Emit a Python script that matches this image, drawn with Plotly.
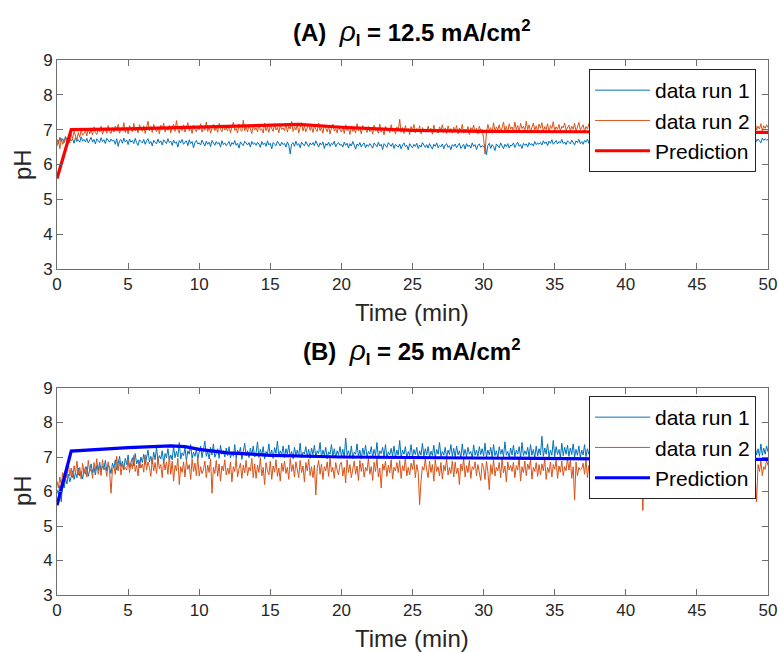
import plotly.graph_objects as go

# ---------------- data ----------------
T_START = 0.0
T_STEP = 0.1
N_PTS = 501
time_min = [round(T_START + i * T_STEP, 2) for i in range(N_PTS)]

a_run1 = [
    6.72,6.60,6.78,6.66,6.74,6.63,6.80,6.69,6.62,6.76,6.68,6.73,6.61,6.77,6.66,6.71,6.64,6.79,6.67,6.72,
    6.65,6.75,6.62,6.70,6.78,6.64,6.72,6.59,6.74,6.68,6.63,6.77,6.66,6.71,6.60,6.75,6.69,6.64,6.73,6.67,
    6.70,6.58,6.74,6.52,6.68,6.72,6.61,6.76,6.65,6.70,6.57,6.73,6.64,6.69,6.60,6.75,6.63,6.55,6.71,6.66,
    6.62,6.72,6.58,6.68,6.74,6.60,6.66,6.53,6.70,6.64,6.59,6.73,6.62,6.68,6.56,6.71,6.65,6.60,6.74,6.63,
    6.67,6.55,6.70,6.61,6.65,6.50,6.69,6.62,6.72,6.58,6.64,6.68,6.54,6.71,6.60,6.66,6.48,6.63,6.69,6.59,
    6.62,6.56,6.70,6.60,6.53,6.67,6.58,6.64,6.51,6.69,6.61,6.55,6.66,6.59,6.63,6.50,6.68,6.57,6.62,6.54,
    6.60,6.66,6.52,6.63,6.58,6.69,6.55,6.61,6.47,6.65,6.59,6.54,6.67,6.60,6.56,6.63,6.50,6.66,6.58,6.62,
    6.55,6.64,6.59,6.49,6.66,6.57,6.62,6.52,6.68,6.56,6.61,6.45,6.63,6.58,6.54,6.67,6.60,6.53,6.64,6.57,
    6.61,6.50,6.65,6.56,6.30,6.59,6.63,6.52,6.67,6.55,6.60,6.48,6.64,6.57,6.53,6.66,6.59,6.51,6.62,6.56,
    6.63,6.54,6.68,6.58,6.50,6.62,6.56,6.65,6.46,6.60,6.55,6.64,6.52,6.61,6.57,6.67,6.51,6.59,6.63,6.55,
    6.58,6.50,6.64,6.55,6.61,6.47,6.60,6.53,6.66,6.56,6.44,6.59,6.54,6.63,6.50,6.58,6.62,6.48,6.57,6.52,
    6.60,6.54,6.47,6.62,6.56,6.51,6.64,6.53,6.58,6.43,6.60,6.55,6.49,6.63,6.57,6.52,6.61,6.46,6.58,6.54,
    6.50,6.59,6.45,6.56,6.62,6.51,6.55,6.42,6.60,6.53,6.48,6.58,6.52,6.61,6.46,6.56,6.50,6.63,6.54,6.49,
    6.57,6.47,6.60,6.53,6.44,6.58,6.52,6.62,6.48,6.55,6.51,6.59,6.45,6.56,6.60,6.49,6.54,6.42,6.57,6.52,
    6.59,6.48,6.55,6.61,6.46,6.53,6.58,6.44,6.60,6.51,6.56,6.47,6.62,6.52,6.57,6.43,6.55,6.59,6.49,6.54,
    6.50,6.58,6.28,6.55,6.61,6.46,6.57,6.52,6.40,6.59,6.53,6.48,6.62,6.55,6.45,6.58,6.51,6.60,6.47,6.56,
    6.54,6.62,6.49,6.58,6.64,6.52,6.57,6.46,6.61,6.55,6.59,6.50,6.63,6.56,6.60,6.53,6.66,6.57,6.62,6.58,
    6.63,6.56,6.68,6.60,6.65,6.54,6.67,6.61,6.71,6.58,6.64,6.69,6.59,6.66,6.62,6.72,6.60,6.65,6.57,6.68,
    6.64,6.59,6.70,6.62,6.56,6.68,6.63,6.72,6.60,6.66,6.58,6.69,6.64,6.73,6.61,6.67,6.55,6.70,6.65,6.62,
    6.68,6.61,6.66,6.57,6.71,6.64,6.59,6.69,6.62,6.74,6.63,6.67,6.58,6.70,6.65,6.61,6.72,6.60,6.68,6.64,
    6.62,6.70,6.58,6.66,6.73,6.61,6.67,6.55,6.69,6.64,6.71,6.60,6.68,6.63,6.57,6.70,6.65,6.74,6.62,6.67,
    6.70,6.59,6.65,6.73,6.60,6.68,6.63,6.70,6.56,6.66,6.72,6.61,6.69,6.64,6.58,6.71,6.66,6.62,6.75,6.63,
    6.61,6.69,6.56,6.67,6.72,6.60,6.65,6.71,6.58,6.68,6.63,6.74,6.62,6.66,6.59,6.70,6.64,6.72,6.61,6.67,
    6.63,6.70,6.59,6.66,6.73,6.61,6.68,6.57,6.71,6.65,6.62,6.74,6.64,6.69,6.60,6.72,6.66,6.63,6.70,6.65,
    6.68,6.62,6.74,6.66,6.71,6.60,6.75,6.67,6.72,6.64,6.70,6.78,6.66,6.73,6.68,6.62,6.76,6.69,6.74,6.70,
    6.72,
]

a_run2 = [
    6.52,6.70,6.45,6.75,6.58,6.66,6.80,6.55,6.72,6.62,6.88,6.74,6.95,6.80,6.70,6.92,6.78,6.98,6.84,6.90,
    6.96,6.82,7.04,6.88,6.99,6.85,7.08,6.92,6.86,7.02,6.94,7.10,6.87,6.97,7.05,6.90,7.12,6.95,6.89,7.06,
    6.93,7.10,6.96,7.15,6.90,7.04,6.98,7.20,6.92,7.07,6.88,7.12,7.00,6.94,7.18,6.97,7.06,6.91,7.14,7.02,
    6.95,7.11,6.89,7.06,7.24,6.97,7.09,6.92,7.15,7.01,6.94,7.08,6.88,7.13,7.00,7.19,6.93,7.05,6.98,7.12,
    6.91,7.07,7.16,6.95,7.26,7.00,6.90,7.10,6.97,7.14,6.93,7.05,7.20,6.96,7.09,6.89,7.13,7.02,6.94,7.08,
    7.00,7.17,6.93,7.06,6.98,7.22,6.95,7.10,6.90,7.04,7.15,6.97,7.08,6.92,7.18,7.01,6.94,7.12,6.99,7.05,
    6.96,7.13,6.91,7.07,7.21,6.98,7.04,6.90,7.16,7.00,6.95,7.27,6.97,7.09,6.93,7.14,7.02,6.89,7.11,6.99,
    7.06,6.94,7.15,6.98,7.03,6.90,7.19,6.97,7.08,6.92,7.12,7.01,6.95,7.17,6.99,7.07,6.91,7.14,7.00,7.05,
    6.97,7.18,6.93,7.10,7.02,7.24,6.95,7.08,6.99,7.15,6.91,7.06,7.20,6.96,7.11,6.94,7.04,7.16,6.98,7.09,
    6.92,7.12,7.00,6.95,7.19,6.97,7.07,6.90,7.14,7.01,6.94,7.10,6.88,7.05,7.16,6.96,7.03,6.91,7.11,6.99,
    6.93,7.08,6.89,7.14,6.97,7.04,6.86,7.10,6.95,7.02,6.90,7.17,6.96,7.06,6.88,7.12,6.99,7.03,6.92,7.09,
    6.94,7.07,6.87,7.13,6.96,7.01,6.90,7.16,6.93,7.05,6.85,7.10,6.98,7.04,6.91,7.14,6.95,7.02,6.88,7.08,
    6.97,7.30,6.92,7.06,6.89,7.12,6.95,7.03,6.86,7.09,6.98,7.15,6.91,7.04,6.94,7.11,6.88,7.06,6.99,7.02,
    6.93,7.10,6.96,7.04,6.87,7.13,6.94,7.00,6.90,7.08,6.97,7.14,6.92,7.05,6.89,7.11,6.98,7.03,6.91,7.07,
    6.95,7.12,6.88,7.05,6.97,7.15,6.90,7.02,6.94,7.09,6.86,7.06,6.99,7.13,6.92,7.04,6.88,7.10,6.96,7.01,
    6.75,6.30,6.92,7.15,6.97,7.06,6.90,7.20,6.95,7.08,6.99,7.14,6.93,7.05,7.22,6.96,7.10,6.92,7.17,7.01,
    7.08,6.95,7.22,6.99,7.12,6.93,7.18,7.03,7.10,6.96,7.24,7.00,7.14,6.94,7.07,7.19,6.98,7.11,6.95,7.16,
    7.04,7.20,6.95,7.09,7.00,7.17,6.93,7.12,7.03,7.23,6.97,7.08,7.01,7.15,6.94,7.10,7.05,7.19,6.98,7.07,
    7.13,6.96,7.10,7.01,7.18,6.94,7.07,7.21,6.99,7.05,7.14,6.95,7.09,7.02,7.17,6.97,7.11,7.04,6.93,7.08,
    7.00,7.15,6.96,7.06,7.12,6.94,7.09,7.02,7.18,6.97,7.05,7.13,6.95,7.08,7.00,7.16,6.93,7.10,7.03,7.07,
    7.11,6.97,7.04,7.16,6.94,7.08,7.01,7.14,6.96,7.06,7.12,6.98,7.03,7.17,6.95,7.09,7.00,7.13,6.97,7.05,
    6.99,7.14,6.95,7.07,7.02,7.18,6.93,7.09,6.98,7.12,7.04,6.96,7.15,7.00,7.08,6.94,7.11,7.03,7.16,6.97,
    7.03,6.96,7.15,7.00,7.08,6.94,7.11,7.02,7.19,6.97,7.06,7.13,6.95,7.10,7.01,7.16,6.98,7.07,7.12,6.96,
    7.06,6.99,7.13,6.95,7.09,7.02,7.17,6.97,7.05,7.11,6.96,7.14,7.00,7.08,6.94,7.12,7.03,7.18,6.98,7.07,
    7.12,6.96,7.19,7.03,6.98,7.15,7.00,7.09,6.97,7.13,7.05,7.21,6.99,7.10,7.02,7.17,6.96,7.11,7.04,7.14,
    7.06,
]

a_pred_t = [0, 1, 5, 10, 17, 20, 25, 30, 35, 40, 45, 50]
a_pred = [5.6, 7.0, 7.02, 7.07, 7.15, 7.07, 6.98, 6.95, 6.94, 6.93, 6.93, 6.92]

b_run1 = [
    6.05,5.92,6.18,5.70,6.30,6.10,6.38,6.22,6.50,6.28,6.42,6.60,6.35,6.55,6.40,6.68,6.45,6.58,6.36,6.62,
    6.50,6.72,6.44,6.65,6.80,6.55,6.70,6.48,6.76,6.62,6.85,6.58,6.74,6.66,6.90,6.60,6.78,6.70,6.52,6.82,
    6.68,6.92,6.62,6.80,7.02,6.72,6.88,6.65,6.96,6.78,7.06,6.70,6.86,6.98,6.74,7.10,6.80,6.92,6.68,7.00,
    6.84,7.08,6.78,6.96,7.20,6.86,7.02,6.80,7.14,6.92,7.28,6.88,7.04,6.94,7.18,6.82,7.10,6.98,7.24,6.90,
    7.06,6.92,7.30,6.98,7.16,7.00,7.42,6.94,7.12,7.04,7.26,6.90,7.18,7.08,7.36,6.96,7.14,7.02,7.22,6.95,
    7.10,7.32,6.98,7.20,7.46,7.02,7.16,6.94,7.28,7.06,7.38,6.99,7.12,7.24,6.96,7.34,7.08,7.18,7.00,7.26,
    7.04,7.30,6.97,7.15,7.02,7.36,6.95,7.20,7.08,7.28,6.93,7.14,7.40,7.03,7.18,6.98,7.26,7.06,7.32,7.00,
    7.12,7.44,6.99,7.22,7.05,7.30,6.94,7.16,7.08,7.38,7.01,7.20,6.96,7.27,7.10,7.46,7.02,7.18,7.06,7.32,
    6.98,7.24,7.08,7.35,7.00,7.16,6.95,7.28,7.06,7.20,7.02,7.40,6.97,7.14,7.09,7.30,7.01,7.22,6.96,7.26,
    7.07,7.34,7.00,7.18,7.10,7.42,6.98,7.20,7.04,7.28,6.95,7.15,7.08,7.36,7.02,7.24,6.99,7.18,7.06,7.30,
    7.02,7.22,6.97,7.55,7.05,7.18,7.00,7.32,6.96,7.14,7.08,7.38,7.01,7.20,6.95,7.26,7.06,7.34,7.00,7.16,
    7.08,7.30,6.98,7.22,7.04,7.42,6.96,7.18,7.10,7.28,7.00,7.36,6.97,7.15,7.06,7.25,7.02,7.32,6.99,7.20,
    7.05,7.48,6.98,7.20,7.08,7.30,6.96,7.16,7.04,7.36,7.00,7.22,7.07,7.28,6.97,7.18,7.05,7.40,7.01,7.24,
    7.06,7.30,6.99,7.17,7.04,7.34,6.97,7.22,7.08,7.42,7.01,7.16,7.05,7.28,6.98,7.20,7.07,7.36,7.02,7.25,
    7.00,7.32,7.06,7.18,6.97,7.38,7.04,7.22,7.01,7.28,7.08,7.16,6.98,7.35,7.05,7.20,7.02,7.30,7.07,7.24,
    7.03,7.40,6.98,7.20,7.06,7.28,7.00,7.36,7.04,7.18,6.97,7.30,7.08,7.22,7.01,7.44,7.05,7.16,6.99,7.26,
    7.06,7.34,7.01,7.20,7.08,7.30,6.98,7.42,7.04,7.18,7.07,7.28,7.00,7.36,7.05,7.22,6.98,7.32,7.03,7.24,
    7.06,7.60,7.02,7.26,7.08,7.38,7.00,7.20,7.05,7.48,7.01,7.30,7.07,7.22,6.99,7.40,7.04,7.28,7.08,7.34,
    7.02,7.26,7.07,7.38,7.00,7.22,7.05,7.32,6.98,7.20,7.06,7.36,7.01,7.24,7.08,7.30,7.03,7.42,7.00,7.22,
    7.05,7.30,7.00,7.20,7.08,7.40,7.02,7.26,7.06,7.34,7.00,7.22,7.07,7.32,7.01,7.20,7.05,7.38,7.02,7.26,
    7.06,7.30,7.01,7.22,7.08,7.36,7.00,7.24,7.05,7.32,7.02,7.20,7.07,7.40,7.03,7.26,7.00,7.30,7.06,7.22,
    7.04,7.34,7.00,7.24,7.08,7.38,7.02,7.22,7.06,7.30,7.01,7.26,7.07,7.36,7.03,7.20,7.05,7.32,7.00,7.28,
    7.06,7.22,7.02,7.35,7.08,7.26,7.01,7.30,7.05,7.20,7.00,7.38,7.06,7.24,7.02,7.32,7.07,7.22,7.01,7.28,
    7.04,7.34,7.00,7.22,7.08,7.36,7.02,7.26,7.06,7.30,7.00,7.24,7.05,7.40,7.02,7.22,7.07,7.30,7.01,7.26,
    7.03,7.45,7.06,7.28,7.01,7.35,7.08,7.22,7.04,7.40,7.00,7.30,7.06,7.24,7.02,7.38,7.05,7.26,7.08,7.32,
    7.15,
]

b_run2 = [
    6.30,6.10,6.42,6.18,6.55,6.25,6.62,6.38,6.80,6.45,6.68,6.40,6.75,6.52,6.88,6.48,6.70,6.36,6.82,6.55,
    6.72,6.42,6.90,6.58,6.66,6.38,6.84,6.60,6.95,6.50,6.76,6.46,6.92,6.62,6.70,6.44,6.86,6.56,5.95,6.64,
    6.72,6.50,7.02,6.60,6.88,6.48,6.78,6.62,6.70,6.62,6.94,6.55,6.82,6.66,7.05,6.58,6.76,6.45,6.90,6.68,
    6.80,6.56,7.06,6.62,6.86,6.70,6.44,6.96,6.60,6.84,6.52,6.98,6.66,6.78,6.40,6.92,6.62,6.86,6.50,7.02,
    6.50,6.88,6.30,6.76,6.60,6.96,6.20,6.72,6.55,6.86,6.42,6.90,6.64,6.78,6.35,6.94,6.58,6.82,6.46,7.00,
    6.45,6.72,6.52,6.64,6.88,6.40,6.76,6.55,6.95,5.95,6.70,6.52,6.90,6.44,6.80,6.30,6.74,6.60,6.92,6.48,
    6.68,6.50,6.86,6.28,6.72,6.58,6.94,6.42,6.66,6.82,6.38,6.76,6.54,6.90,6.46,6.70,6.60,6.96,6.40,6.80,
    6.38,6.76,6.55,6.98,6.45,6.70,6.20,6.84,6.60,6.48,6.88,6.35,6.74,6.56,6.92,6.44,6.68,6.30,6.82,6.58,
    6.88,6.52,6.70,6.35,6.96,6.58,6.78,6.42,6.86,6.62,6.40,6.90,6.55,6.74,6.28,6.84,6.60,6.94,6.46,6.72,
    6.40,6.76,5.90,6.68,6.90,6.50,6.80,6.35,6.72,6.60,6.86,6.44,6.96,6.56,6.70,6.38,6.84,6.62,6.48,6.78,
    6.85,6.45,6.70,6.25,6.92,6.55,6.78,6.40,6.65,6.88,6.50,6.74,6.32,6.90,6.58,6.82,6.42,6.70,6.60,6.95,
    6.50,6.72,6.32,6.85,6.58,6.95,6.42,6.68,6.10,6.80,6.62,6.88,6.44,6.76,6.54,6.92,6.36,6.70,6.60,6.84,
    6.55,6.90,6.38,6.75,6.60,6.98,6.45,6.70,6.48,6.82,6.64,6.92,6.40,6.78,6.56,5.62,6.30,6.72,6.62,6.94,
    6.62,6.40,6.88,6.55,6.78,6.30,6.92,6.58,6.72,6.45,6.84,6.36,6.76,6.60,6.96,6.48,6.70,6.52,6.88,6.42,
    6.85,6.52,6.68,6.20,6.80,6.60,6.95,6.42,6.75,6.55,6.90,6.38,6.72,6.64,6.86,6.46,6.78,6.58,6.32,6.82,
    6.70,6.35,6.88,6.58,6.05,6.78,6.50,6.92,6.45,6.70,6.60,6.84,6.40,6.96,6.54,6.74,6.28,6.86,6.62,6.76,
    6.58,6.85,6.40,6.75,6.62,6.98,6.30,6.72,6.55,6.88,6.46,6.80,6.64,6.92,6.36,6.70,6.58,6.84,6.44,6.78,
    6.48,6.80,6.60,6.95,6.35,6.70,6.55,6.85,6.42,6.78,6.64,6.90,6.38,6.74,6.56,6.88,6.46,6.72,6.60,6.94,
    6.62,6.90,6.38,6.72,5.75,6.85,6.45,6.70,6.62,6.66,6.82,6.50,6.92,6.40,6.76,6.60,6.88,6.44,6.70,6.55,
    6.88,6.40,6.75,6.60,6.95,6.32,6.68,6.52,6.82,6.45,6.78,6.62,6.90,6.36,6.72,6.56,6.86,6.42,6.74,6.64,
    6.70,6.58,6.90,6.35,6.78,6.62,6.95,6.44,6.72,6.50,6.86,6.40,5.45,6.74,6.60,6.88,6.38,6.76,6.54,6.92,
    6.55,6.80,6.40,6.70,6.62,6.92,6.30,6.75,6.58,6.85,6.44,6.72,6.64,6.96,6.36,6.78,6.52,6.88,6.46,6.70,
    6.45,6.72,6.60,6.90,6.38,6.78,6.52,6.68,6.85,6.42,6.76,6.58,6.94,6.34,6.70,6.62,6.86,6.48,6.74,6.56,
    6.75,6.58,6.92,6.30,6.70,6.62,6.88,6.45,6.78,6.55,6.84,6.40,6.72,6.60,6.96,6.36,6.76,6.52,6.90,6.46,
    6.85,6.50,6.72,6.60,6.90,6.40,6.80,6.56,6.74,6.62,6.94,6.44,5.70,6.78,6.58,6.88,6.46,6.72,6.64,6.92,
    6.75,
]

b_pred_t = [0, 1, 5, 8, 9, 10, 12, 15, 20, 25, 30, 40, 50]
b_pred = [5.6, 7.17, 7.27, 7.32, 7.3, 7.22, 7.12, 7.05, 7.0, 6.98, 6.96, 6.94, 6.93]

RHO = "<span style='font-weight:normal;font-size:28px'><i>ρ</i></span>"
titles = ["<b>(A)&nbsp; " + RHO + "<sub>I</sub>&nbsp;= 12.5 mA/cm<sup>2</sup></b>",
          "<b>(B)&nbsp; " + RHO + "<sub>I</sub>&nbsp;= 25 mA/cm<sup>2</sup></b>"]
x_ticks = [0, 5, 10, 15, 20, 25, 30, 35, 40, 45, 50]
y_ticks = [3, 4, 5, 6, 7, 8, 9]

# ---------------- styling ----------------
W, H = 779, 652
FONT = "Liberation Sans, Arial, Helvetica, sans-serif"
C_RUN1 = "#0072BD"
C_RUN2 = "#D95319"
AX_COL = "#6e6e6e"
TXT_COL = "#262626"

def px_x(p):
    return p / W

def px_y(p):
    return 1 - p / H

x_dom = [px_x(57), px_x(768)]
top_dom = [px_y(269), px_y(60)]
bot_dom = [px_y(595), px_y(388)]

fig = go.Figure()

# Top panel
fig.add_trace(go.Scatter(x=time_min, y=a_run1, mode="lines", name="data run 1",
                         line=dict(color=C_RUN1, width=1), xaxis="x", yaxis="y", legend="legend"))
fig.add_trace(go.Scatter(x=time_min, y=a_run2, mode="lines", name="data run 2",
                         line=dict(color=C_RUN2, width=1), xaxis="x", yaxis="y", legend="legend"))
fig.add_trace(go.Scatter(x=a_pred_t, y=a_pred, mode="lines", name="Prediction",
                         line=dict(color="#FF0000", width=3.2), xaxis="x", yaxis="y", legend="legend"))
# Bottom panel
fig.add_trace(go.Scatter(x=time_min, y=b_run1, mode="lines", name="data run 1",
                         line=dict(color=C_RUN1, width=1), xaxis="x2", yaxis="y2", legend="legend2"))
fig.add_trace(go.Scatter(x=time_min, y=b_run2, mode="lines", name="data run 2",
                         line=dict(color=C_RUN2, width=1), xaxis="x2", yaxis="y2", legend="legend2"))
fig.add_trace(go.Scatter(x=b_pred_t, y=b_pred, mode="lines", name="Prediction",
                         line=dict(color="#0000FF", width=3.2), xaxis="x2", yaxis="y2", legend="legend2"))

axis_common = dict(showgrid=False, zeroline=False, showline=True, linecolor=AX_COL, linewidth=1,
                   mirror="allticks", ticks="inside", ticklen=6, tickcolor=AX_COL, automargin=False,
                   tickfont=dict(family=FONT, size=17, color=TXT_COL))

legend_common = dict(xanchor="right", yanchor="top", bgcolor="white", bordercolor=TXT_COL,
                     borderwidth=1, font=dict(family=FONT, size=21, color="black"),
                     tracegroupgap=0, itemwidth=55)

fig.update_layout(
    width=W, height=H,
    margin=dict(l=0, r=0, t=0, b=0, autoexpand=False),
    paper_bgcolor="white", plot_bgcolor="white",
    font=dict(family=FONT, color=TXT_COL),
    xaxis=dict(domain=x_dom, anchor="y", range=[0, 50], tickvals=x_ticks, **axis_common),
    yaxis=dict(domain=top_dom, anchor="x", range=[3, 9], tickvals=y_ticks, **axis_common),
    xaxis2=dict(domain=x_dom, anchor="y2", range=[0, 50], tickvals=x_ticks, **axis_common),
    yaxis2=dict(domain=bot_dom, anchor="x2", range=[3, 9], tickvals=y_ticks, **axis_common),
    legend=dict(x=px_x(756), y=px_y(69), **legend_common),
    legend2=dict(x=px_x(756), y=px_y(396), **legend_common),
    showlegend=True,
)

ann = []
# Titles
ann.append(dict(text=titles[0], x=px_x(411), y=px_y(33), xref="paper", yref="paper",
                xanchor="center", yanchor="middle",
                showarrow=False, font=dict(family=FONT, size=24, color="black")))
ann.append(dict(text=titles[1], x=px_x(411), y=px_y(352), xref="paper", yref="paper",
                xanchor="center", yanchor="middle",
                showarrow=False, font=dict(family=FONT, size=24, color="black")))
# x-axis titles
for yy in (312, 638):
    ann.append(dict(text="Time (min)", x=px_x(412), y=px_y(yy), xref="paper", yref="paper",
                    xanchor="center", yanchor="middle",
                    showarrow=False, font=dict(family=FONT, size=24, color=TXT_COL)))
# y-axis titles
for yy in (165, 491):
    ann.append(dict(text="pH", x=px_x(22), y=px_y(yy), xref="paper", yref="paper",
                    xanchor="center", yanchor="middle",
                    showarrow=False, textangle=-90, font=dict(family=FONT, size=24, color=TXT_COL)))
fig.update_layout(annotations=ann)

fig.write_html("out.html")
